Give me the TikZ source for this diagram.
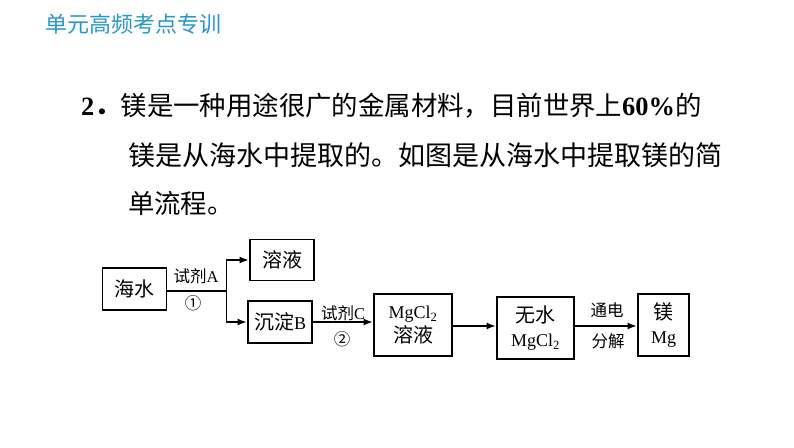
\documentclass[tikz,border=0pt]{standalone}
\usepackage{fontspec}
\setmainfont{Liberation Serif}
\newfontfamily\cjk{Noto Sans CJK SC}
\usetikzlibrary{arrows.meta}
\usetikzlibrary{positioning}
\definecolor{headblue}{RGB}{40,150,200}
\newcommand{\latinsize}{\rmfamily\fontsize{18}{24}\selectfont}
\tikzstyle{base}=[x=1pt, y=1pt, inner sep=0pt, outer sep=0pt]
\tikzstyle{flowbox}=[draw, line width=1.2pt, align=center, font=\cjk\fontsize{20}{24}\selectfont]
\tikzstyle{flowlabel}=[font=\cjk\fontsize{16.5}{18}\selectfont]
\tikzstyle{flowline}=[line width=1.2pt, -{Latex[length=9pt,width=7pt]}, shorten >=1.5pt]
\tikzstyle{bodyline}=[anchor=west, font=\cjk\fontsize{26.4}{30}\selectfont]

\begin{document}
\begin{tikzpicture}[base]
        \path[use as bounding box] (0,0) rectangle (794,447);

        \node[anchor=west, text=headblue, font=\cjk\fontsize{22}{24}\selectfont] (head) at (45,423) {单元高频考点专训};
        \node[bodyline] (line1) at (81,341) {{\rmfamily\bfseries 2}{\bfseries ．}镁是一种用途很广的金属材料，目前世界上{\rmfamily\bfseries 60\%}的};
        \node[bodyline, font=\cjk\fontsize{27}{30}\selectfont] (line2) at (128,292) {镁是从海水中提取的。如图是从海水中提取镁的简};
        \node[bodyline] (line3) at (128,244) {单流程。};

        \node[flowbox, minimum width=64pt, minimum height=42pt] (water) at (134.5,158) {海水};
        \node[flowbox, minimum width=64pt, minimum height=41pt] (solution) at (282,187) {溶液};
        \node[flowbox, minimum width=64pt, minimum height=42pt] (deposit) at (280,125) {沉淀{\latinsize B}};
        \node[flowbox, minimum width=78pt, minimum height=62pt] (mgsol) at (413,122) {{\latinsize MgCl\textsubscript{2}}\\溶液};
        \node[flowbox, minimum width=77pt, minimum height=62pt] (mgdry) at (535.5,119) {无水\\{\latinsize MgCl\textsubscript{2}}};
        \node[flowbox, minimum width=51pt, minimum height=62pt] (metal) at (663.5,122) {镁\\{\latinsize Mg}};

        \coordinate (fork) at (226.5,156);
        \draw[line width=1.2pt] (water.east |- fork) -- (fork);
        \draw[flowline] (fork) |- (solution.west);
        \draw[flowline] (fork) |- (deposit.west);
        \draw[flowline] (deposit.east) -- (deposit.east -| mgsol.west);
        \draw[flowline] (mgsol.east |- 0,121) -- (mgdry.west |- 0,121);
        \draw[flowline] (mgdry.east |- 0,121) -- (metal.west |- 0,121);

        \node[flowlabel] (reagentA) at (196,171) {试剂{\rmfamily A}};
        \node[flowlabel] (stepone) at (193,144) {①};
        \node[flowlabel] (reagentC) at (343,134) {试剂{\rmfamily C}};
        \node[flowlabel] (steptwo) at (342,108) {②};
        \node[flowlabel] (power) at (607,137) {通电};
        \node[flowlabel] (split) at (608,106) {分解};
    \end{tikzpicture}
\end{document}
